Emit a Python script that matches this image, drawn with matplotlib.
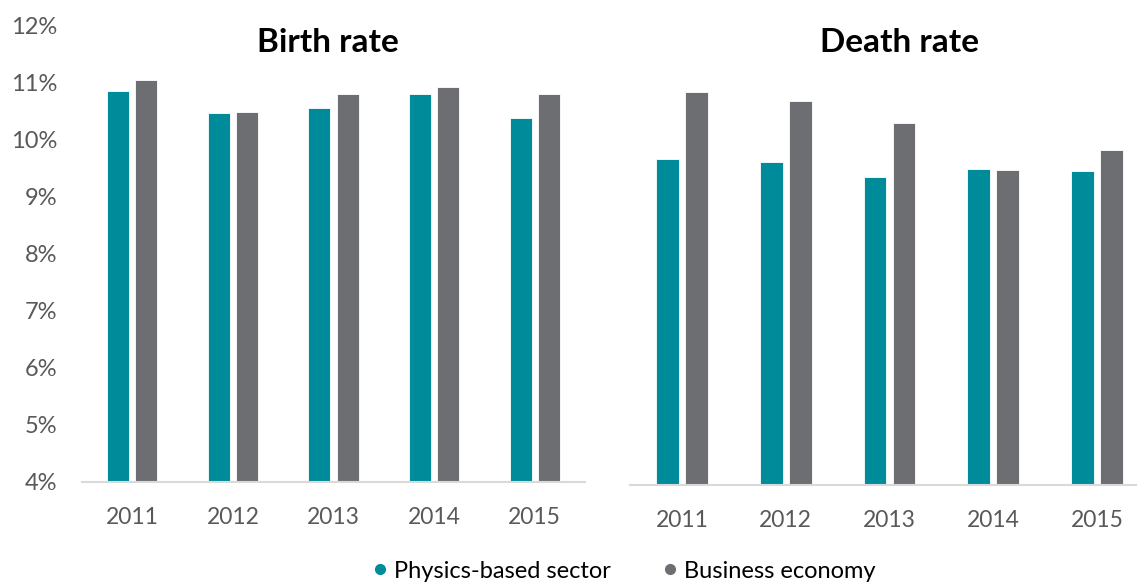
import matplotlib
matplotlib.use("Agg")
import matplotlib.pyplot as plt
import numpy as np
from matplotlib.lines import Line2D

plt.rcParams['font.family'] = ['Lato', 'DejaVu Sans']

years = ["2011", "2012", "2013", "2014", "2015"]
birth_physics = [10.84, 10.46, 10.54, 10.80, 10.38]
birth_business = [11.04, 10.48, 10.79, 10.92, 10.80]
death_physics = [9.70, 9.65, 9.40, 9.53, 9.49]
death_business = [10.88, 10.73, 10.33, 9.51, 9.86]
yticks = [4, 5, 6, 7, 8, 9, 10, 11, 12]
ytick_labels = [f"{v}%" for v in yticks]

TEAL = "#008B9A"
GRAY = "#6D6E71"
TXT = "#595959"
W, H = 1137, 584

fig = plt.figure(figsize=(W / 100, H / 100), dpi=100)

def px_axes(x0, x1, ybot, ytop):
    return fig.add_axes([x0 / W, (H - ybot) / H, (x1 - x0) / W, (ybot - ytop) / H])

ax1 = px_axes(82, 585, 482, 25)
ax2 = px_axes(630, 1149, 485, 28)

def draw(ax, a, b, title, title_x, show_y):
    x = np.arange(len(years))
    bw = 0.22
    ax.bar(x - 0.14, [v - 4 for v in a], bw, bottom=4, color=TEAL, edgecolor="white", linewidth=0.6)
    ax.bar(x + 0.14, [v - 4 for v in b], bw, bottom=4, color=GRAY, edgecolor="white", linewidth=0.6)
    ax.set_xlim(-0.5, len(years) - 0.5)
    ax.set_ylim(4, 12)
    ax.set_xticks(x)
    ax.set_xticklabels(years, fontsize=16.5, color=TXT)
    ax.tick_params(axis="x", length=0, pad=18)
    for s in ["top", "right", "left"]:
        ax.spines[s].set_visible(False)
    ax.spines["bottom"].set_color("#D9D9D9")
    ax.spines["bottom"].set_linewidth(1.5)
    if show_y:
        ax.set_yticks(yticks)
        ax.set_yticklabels(ytick_labels, fontsize=17, color=TXT)
        ax.tick_params(axis="y", length=0, pad=18)
    else:
        ax.set_yticks([])
    fig.text(title_x / W, 1 - 43 / H, title, ha="center", va="center",
             fontsize=24, fontweight="bold", color="black")
    ax.patch.set_visible(False)

draw(ax1, birth_physics, birth_business, "Birth rate", 328, True)
draw(ax2, death_physics, death_business, "Death rate", 900, False)

handles = [Line2D([], [], marker="o", linestyle="", markersize=7, color=TEAL),
           Line2D([], [], marker="o", linestyle="", markersize=7, color=GRAY)]
fig.legend(handles, ["Physics-based sector", "Business economy"], loc="center",
           bbox_to_anchor=(624 / W, 1 - 571 / H), ncol=2, frameon=False,
           fontsize=17, labelcolor="black", handlelength=0.6, handletextpad=0.3,
           columnspacing=2.2)

fig.savefig("out.png", dpi=100)
